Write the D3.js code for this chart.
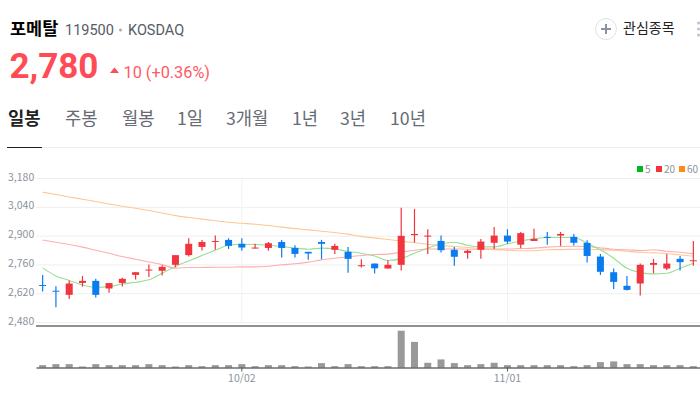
<!DOCTYPE html>
<html lang="ko"><head><meta charset="utf-8">
<script src="https://d3js.org/d3.v7.min.js"></script>
<style>html,body{margin:0;padding:0;background:#fff;overflow:hidden}svg{display:block}text{font-family:"Noto Sans CJK KR","Noto Sans",sans-serif}</style>
</head><body><svg id="c" width="700" height="400"></svg>
<script>
const dates=["09/06","09/09","09/10","09/11","09/16","09/17","09/18","09/19","09/20","09/23","09/24","09/25","09/26","09/27","09/30","10/02","10/04","10/07","10/08","10/10","10/11","10/14","10/15","10/16","10/17","10/18","10/21","10/22","10/23","10/24","10/25","10/28","10/29","10/30","10/31","11/01","11/04","11/05","11/06","11/07","11/08","11/11","11/12","11/13","11/14","11/15","11/18","11/19","11/20","11/21"];
const opens=[2660,2632,2612,2670,2680,2643,2670,2709,2730,2729,2758,2805,2845,2871,2879,2860,2837,2840,2869,2840,2821,2869,2831,2821,2751,2764,2740,2758,2902,2895,2874,2831,2816,2831,2865,2900,2856,2874,2894,2900,2894,2865,2798,2722,2656,2667,2758,2740,2787,2777];
const closes=[2657,2629,2667,2680,2612,2669,2690,2722,2735,2748,2805,2860,2869,2874,2850,2842,2842,2863,2840,2811,2813,2860,2850,2787,2756,2741,2758,2899,2908,2900,2829,2797,2826,2871,2900,2871,2912,2884,2891,2908,2865,2801,2724,2675,2636,2758,2767,2764,2771,2780];
const highs=[2709,2654,2682,2704,2690,2669,2695,2722,2759,2756,2805,2887,2879,2900,2887,2887,2860,2869,2879,2853,2821,2879,2860,2845,2785,2764,2780,3035,3030,2931,2900,2844,2831,2884,2942,2931,2918,2933,2918,2918,2908,2878,2811,2740,2704,2764,2787,2811,2801,2874];
const lows=[2628,2552,2592,2652,2599,2622,2652,2686,2699,2706,2746,2798,2827,2831,2835,2826,2837,2826,2793,2793,2782,2785,2811,2720,2745,2716,2740,2730,2866,2811,2818,2753,2787,2787,2835,2860,2839,2874,2855,2850,2852,2769,2709,2641,2633,2609,2717,2733,2730,2753];
const ma5=[2743,2704,2682,2660,2649,2652,2665,2673,2685,2717,2750,2777,2803,2829,2853,2858,2857,2853,2847,2839,2834,2839,2835,2823,2814,2801,2779,2788,2814,2839,2860,2868,2853,2845,2845,2860,2874,2884,2891,2891,2891,2863,2831,2790,2741,2720,2714,2717,2741,2766];
const ma20=[2878,2868,2857,2844,2829,2814,2798,2785,2772,2759,2742,2745,2745,2746,2746,2748,2748,2751,2758,2763,2771,2782,2790,2797,2803,2808,2810,2819,2829,2835,2835,2835,2834,2834,2835,2835,2837,2839,2844,2847,2848,2847,2840,2834,2831,2827,2831,2824,2819,2811];
const ma60=[3111,3100,3088,3077,3066,3054,3043,3033,3022,3010,2997,2988,2980,2972,2965,2960,2955,2949,2941,2934,2928,2921,2915,2907,2895,2889,2881,2873,2865,2858,2852,2847,2842,2837,2832,2829,2826,2826,2831,2832,2834,2834,2832,2829,2824,2819,2816,2813,2806,2800];
const volumes=[70,100,100,30,100,70,70,70,100,70,30,70,40,70,70,100,40,70,70,40,30,130,40,100,40,40,40,1090,760,140,240,130,70,100,140,70,70,70,70,70,40,70,160,180,100,100,70,70,70,40];
const yTicks=[3180,3040,2900,2760,2620,2480];
const xTicks=["10/02","11/01"];
const legendItems=["5","20","60"];
const tabs=["일봉","주봉","월봉","1일","3개월","1년","3년","10년"];

const svg=d3.select("#c");
const x=d3.scaleBand().domain(dates).range([36,700]);
const y=d3.scaleLinear().domain([2480,3180]).range([322,178]);
const v=d3.scaleLinear().domain([0,1230]).range([367.5,326]);
const cx=d=>x(d)+x.bandwidth()/2;
const RED="#f1343d",BLUE="#0b7cf0",AXIS="#8c929c";

// header
const T=(px,py,s,size,fill,w,font)=>{const t=svg.append("text").attr("x",px).attr("y",py).text(s).attr("font-size",size).attr("fill",fill).attr("font-weight",w||400);if(font)t.style("font-family",font);return t;};
T(10,35,"포메탈",17.500,"#000",700);
T(65,35,"119500",14.500,"#555c66",400,"Roboto");
svg.append("circle").attr("cx",120.500).attr("cy",30).attr("r",1.500).attr("fill","#aaa");
T(128,35,"KOSDAQ",14.500,"#555c66",400,"Roboto");
T(9.500,78,"2,780",35,"#ff4b55",700,"Roboto");
svg.append("path").attr("d","M110 73L114.500 67.500L119 73Z").attr("fill","#ff4b55");
T(123.500,78,"10 (+0.36%)",16.300,"#ff5a64",400,"Roboto");
svg.append("circle").attr("cx",606).attr("cy",29).attr("r",10.500).attr("fill","#fff").attr("stroke","#dfe2e8");
svg.append("path").attr("d","M601 29H611M606 24V34").attr("stroke","#8a93a3").attr("stroke-width",2);
T(623,33,"관심종목",14,"#222");
svg.selectAll(".dot").data([23,29,35]).join("circle").attr("cx",698.500).attr("cy",d=>d).attr("r",1.600).attr("fill","#c4c7cd");

// tabs
const tabX=[8,65,122,177,226,292,340,390];
svg.selectAll(".tab").data(tabs).join("text").attr("class","tab")
 .attr("x",(d,i)=>tabX[i]).attr("y",125).text(d=>d).attr("font-size",17.700)
 .attr("fill",(d,i)=>i?"#666b73":"#222").attr("font-weight",(d,i)=>i?400:700);
svg.append("line").attr("x1",7).attr("x2",700).attr("y1",147.500).attr("y2",147.500).attr("stroke","#eee");
svg.append("line").attr("x1",7).attr("x2",42).attr("y1",147.500).attr("y2",147.500).attr("stroke","#222");

// legend
const legX=[637,656,679], legC=["#00b81c","#f5323c","#ff8a14"];
legendItems.forEach((s,i)=>{
 svg.append("rect").attr("x",legX[i]).attr("y",166).attr("width",6).attr("height",6).attr("fill",legC[i]);
 T(legX[i]+8,172.500,s,10,"#8c929c");
});

// grid and axes
const gy=svg.append("g").attr("transform","translate(36,0)").call(d3.axisLeft(y).tickValues(yTicks).tickSize(-664).tickPadding(3).tickFormat(d3.format(",")));
gy.select(".domain").remove();
gy.selectAll("line").attr("stroke","#eeeeee");
gy.selectAll("text").attr("font-size",10.500).attr("fill",AXIS).attr("text-anchor","start").attr("x",-28).attr("dy","0.2em");
svg.selectAll(".vg").data(xTicks).join("line").attr("x1",d=>cx(d)).attr("x2",d=>cx(d)).attr("y1",178).attr("y2",322).attr("stroke","#f2f2f2");

// MAs
const line=d3.line().x((d,i)=>cx(dates[i])).y(d=>y(d)).curve(d3.curveMonotoneX);
[[ma60,"#ffc795"],[ma20,"#ffaeb0"],[ma5,"#96e093"]].forEach(([a,c])=>svg.append("path").datum(a).attr("d",line).attr("fill","none").attr("stroke",c).attr("stroke-width",1.100));

// candles
const colour=i=>closes[i]>=opens[i]?RED:BLUE;
const c=svg.append("g").selectAll("g").data(dates).join("g");
c.append("line").attr("x1",d=>cx(d)).attr("x2",d=>cx(d))
 .attr("y1",(d,i)=>y(highs[i])).attr("y2",(d,i)=>y(lows[i])).attr("stroke",(d,i)=>colour(i)).attr("stroke-width",1.200);
c.append("rect").attr("x",d=>cx(d)-3.500).attr("width",7)
 .attr("y",(d,i)=>y(Math.max(opens[i],closes[i])))
 .attr("height",(d,i)=>Math.max(1,Math.abs(y(opens[i])-y(closes[i]))))
 .attr("fill",(d,i)=>colour(i));

// volume
svg.selectAll(".vol").data(volumes).join("rect").attr("class","vol")
 .attr("x",(d,i)=>cx(dates[i])-3.500).attr("width",7).attr("y",d=>v(d)).attr("height",d=>v(0)-v(d)).attr("fill","#999");
svg.append("line").attr("x1",36).attr("x2",700).attr("y1",326).attr("y2",326).attr("stroke","#222").attr("stroke-width",1);
const gx=svg.append("g").attr("transform","translate(0,367.500)").call(d3.axisBottom(x).tickValues(xTicks).tickSizeInner(4).tickSizeOuter(0).tickPadding(3));
gx.select(".domain").attr("stroke","#222");
gx.selectAll("line").attr("stroke","#555");
gx.selectAll("text").attr("font-size",10.500).attr("fill",AXIS);
</script></body></html>
